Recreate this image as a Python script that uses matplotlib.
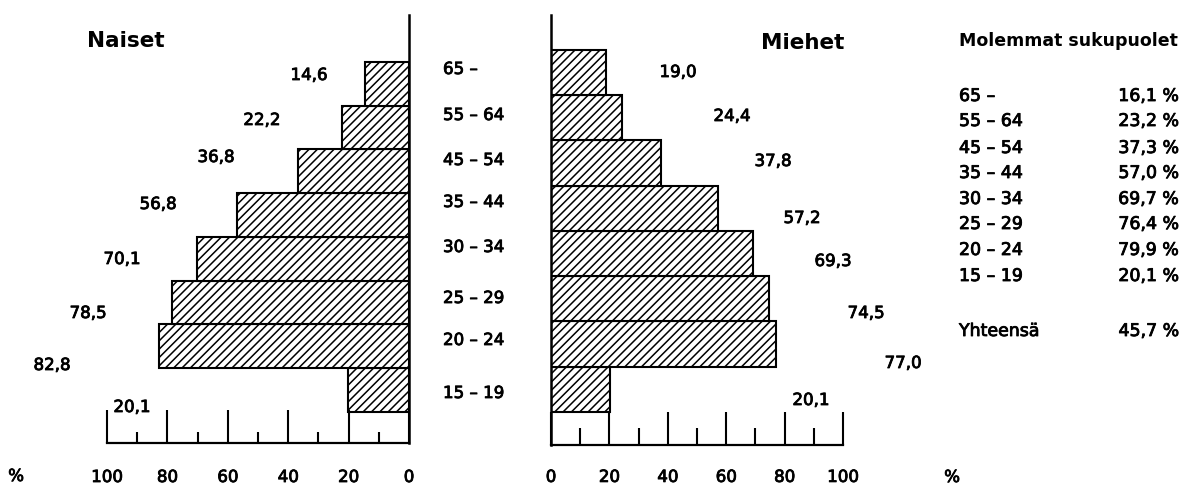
import numpy as np
import matplotlib
matplotlib.use('Agg')
import matplotlib.pyplot as plt
import matplotlib.patheffects as pe

plt.rcParams['font.family'] = ['DejaVu Sans']
plt.rcParams['hatch.linewidth'] = 1.1

# ikäryhmät alhaalta ylös
ages = ['15 \u2013 19', '20 \u2013 24', '25 \u2013 29', '30 \u2013 34',
        '35 \u2013 44', '45 \u2013 54', '55 \u2013 64', '65 \u2013']
naiset = [20.1, 82.8, 78.5, 70.1, 56.8, 36.8, 22.2, 14.6]
miehet = [20.1, 77.0, 74.5, 69.3, 57.2, 37.8, 24.4, 19.0]
molemmat = [20.1, 79.9, 76.4, 69.7, 57.0, 37.3, 23.2, 16.1]
yhteensa = 45.7

ticks_major = [0, 20, 40, 60, 80, 100]
ticks_minor = [10, 30, 50, 70, 90]

W, H = 1191, 486
fig = plt.figure(figsize=(W / 100, H / 100), dpi=100)

# hieman paksumpi teksti kuin tavallinen
heavy = [pe.withStroke(linewidth=0.6, foreground='black')]


def px(x, y):
    return x / W, 1 - y / H


def fmt(v):
    return f'{v:.1f}'.replace('.', ',')


def setup(ax, side, minor_len, pad):
    for s in ['top', 'left', 'right', 'bottom']:
        ax.spines[s].set_visible(False)
    ax.spines['bottom'].set_visible(True)
    ax.spines[side].set_visible(True)
    ax.spines['bottom'].set_linewidth(1.6)
    ax.spines[side].set_linewidth(1.8)
    ax.set_xticks(ticks_major)
    ax.set_xticks(ticks_minor, minor=True)
    ax.set_yticks([])
    ax.tick_params(axis='x', which='major', direction='in', length=23.8,
                   width=1.5, pad=pad, labelsize=12)
    ax.tick_params(axis='x', which='minor', direction='in', length=minor_len,
                   width=1.5)
    for lab in ax.get_xticklabels():
        lab.set_path_effects(heavy)


# Naiset (vasen)
axL = fig.add_axes([107 / W, (H - 443) / H, 302 / W, (443 - 15) / H])
axL.barh(np.arange(len(ages)), naiset, height=1.0, color='white',
         edgecolor='black', linewidth=1.5, hatch='////')
axL.set_xlim(100, 0)
axL.set_ylim(-1.21, 8.57)
setup(axL, 'right', 8, 18)

# Miehet (oikea)
axR = fig.add_axes([551 / W, (H - 445) / H, 292 / W, (445 - 15) / H])
axR.barh(np.arange(len(ages)), miehet, height=1.0, color='white',
         edgecolor='black', linewidth=1.5, hatch='////')
axR.set_xlim(0, 100)
axR.set_ylim(-1.23, 8.27)
setup(axR, 'left', 12, 16.5)

# arvojen sijainnit (pikseleinä)
naiset_lab_x = [132, 52, 88, 122, 158, 216, 262, 309]
naiset_lab_y = [407, 365, 313, 259, 204, 157, 120, 75]
miehet_lab_x = [811, 903, 866, 833, 802, 773, 732, 678]
miehet_lab_y = [400, 363, 313, 261, 218, 161, 116, 72]
age_lab_y = [393, 340, 298, 247, 202, 160, 115, 69]

txt = dict(fontsize=12, va='center', path_effects=heavy)
for v, x, y in zip(naiset, naiset_lab_x, naiset_lab_y):
    fig.text(*px(x, y), fmt(v), ha='center', **txt)
for v, x, y in zip(miehet, miehet_lab_x, miehet_lab_y):
    fig.text(*px(x, y), fmt(v), ha='center', **txt)
for a, y in zip(ages, age_lab_y):
    fig.text(*px(443, y), a, ha='left', **txt)

fig.text(*px(87, 41), 'Naiset', ha='left', va='center', fontsize=15.5,
         fontweight='bold')
fig.text(*px(761, 43), 'Miehet', ha='left', va='center', fontsize=15.5,
         fontweight='bold')
fig.text(*px(16, 476), '%', ha='center', **txt)
fig.text(*px(952, 477), '%', ha='center', **txt)

# taulukko
fig.text(*px(959, 41), 'Molemmat sukupuolet', ha='left', va='center',
         fontsize=12.5, fontweight='bold')
row_y = [276, 250, 224, 199, 173, 148, 121, 96]
tab = dict(fontsize=12.5, va='center', path_effects=heavy)
for a, v, y in zip(ages, molemmat, row_y):
    fig.text(*px(959, y), a, ha='left', **tab)
    fig.text(*px(1179, y), fmt(v) + ' %', ha='right', **tab)
fig.text(*px(959, 331), 'Yhteensä', ha='left', **tab)
fig.text(*px(1179, 331), fmt(yhteensa) + ' %', ha='right', **tab)

fig.savefig('out.png', dpi=100)
